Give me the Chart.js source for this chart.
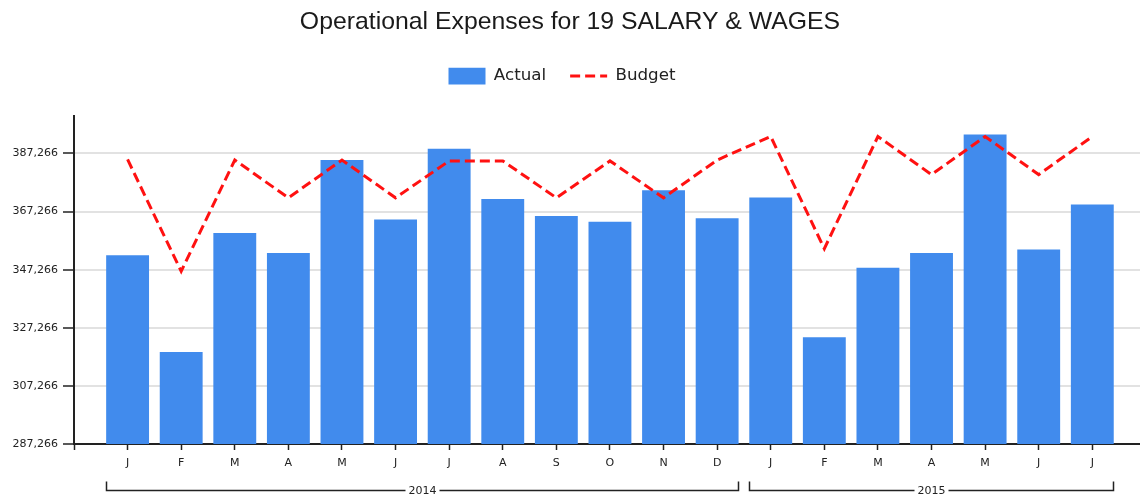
<!DOCTYPE html>
<html>
<head>
<meta charset="utf-8">
<script src="https://cdn.jsdelivr.net/npm/chart.js@4/dist/chart.umd.min.js"></script>
<style>
  html, body { margin: 0; padding: 0; background: #ffffff; }
  #wrap { width: 1140px; height: 497px; }
</style>
</head>
<body>
<div id="wrap"><canvas id="c" width="1140" height="497"></canvas></div>
<script>
// ---- data ----
const months = ['J','F','M','A','M','J','J','A','S','O','N','D','J','F','M','A','M','J','J'];
const actualValues = [352200, 318900, 359900, 353000, 385000, 364500, 388900, 371600, 365700, 363800, 374600, 365000,
                      372100, 324000, 347900, 353000, 393800, 354200, 369700];
const budgetValues = [385200, 346700, 385000, 372000, 385000, 372000, 384700, 384700, 372000, 384700, 372000, 385000,
                      393100, 354500, 393100, 380000, 393100, 380000, 393100];
const yTickValues = [287266, 307266, 327266, 347266, 367266, 387266];
const groupLabels = ['2014', '2015'];
const groupStart = [0, 12];
const groupEnd = [11, 18];

const yMin = 287266, yMax = 400000;
const FONT = "'DejaVu Sans', Verdana, sans-serif";

const bracketPlugin = {
  id: 'yearBrackets',
  afterLayout(chart) {
    // nudge the legend slightly left, as in the reference
    if (chart.legend) { chart.legend.left -= 8; chart.legend.right -= 8; }
  },
  afterDraw(chart) {
    const xs = chart.scales.x;
    const ctx = chart.ctx;
    const yLine = chart.chartArea.bottom + 46.5;
    const yTop = yLine - 9;
    ctx.save();
    ctx.strokeStyle = '#222';
    ctx.lineWidth = 1.5;
    ctx.font = '11px ' + FONT;
    ctx.fillStyle = '#222';
    ctx.textAlign = 'center';
    ctx.textBaseline = 'middle';
    groupLabels.forEach((lab, g) => {
      const x1 = Math.round(xs.getPixelForValue(groupStart[g] - 0.4)) + 0.5;
      const x2 = Math.round(xs.getPixelForValue(groupEnd[g] + 0.4)) - 0.5;
      const cx = (x1 + x2) / 2;
      const tw = ctx.measureText(lab).width;
      const gap = tw / 2 + 3;
      ctx.beginPath();
      ctx.moveTo(x1, yTop); ctx.lineTo(x1, yLine); ctx.lineTo(cx - gap, yLine);
      ctx.moveTo(cx + gap, yLine); ctx.lineTo(x2, yLine); ctx.lineTo(x2, yTop);
      ctx.stroke();
      ctx.fillText(lab, cx, yLine + 0.5);
    });
    ctx.restore();
  }
};

new Chart(document.getElementById('c'), {
  type: 'bar',
  data: {
    datasets: [
      {
        type: 'bar',
        label: 'Actual',
        data: actualValues.map((v, i) => ({ x: i, y: v })),
        backgroundColor: '#418bed',
        borderWidth: 0,
        barPercentage: 1.0,
        categoryPercentage: 0.8,
        pointStyle: 'rect',
        order: 1
      },
      {
        type: 'line',
        label: 'Budget',
        data: budgetValues.map((v, i) => ({ x: i, y: v })),
        borderColor: '#ff1111',
        backgroundColor: '#ff1111',
        borderWidth: 3,
        borderDash: [10, 5],
        pointRadius: 0,
        pointHoverRadius: 0,
        pointStyle: 'line',
        tension: 0,
        fill: false,
        order: 0
      }
    ]
  },
  options: {
    responsive: false,
    animation: false,
    events: [],
    layout: { padding: { top: 0, left: 0, right: 0, bottom: 0 } },
    plugins: {
      title: {
        display: true,
        text: 'Operational Expenses for 19 SALARY & WAGES',
        color: '#1a1a1a',
        font: { family: "'Liberation Sans', Arial, sans-serif", size: 24.8, weight: 'normal' },
        padding: { top: 7, bottom: 7 }
      },
      subtitle: {
        display: true,
        text: '',
        position: 'top',
        weight: 500,
        padding: 0,
        font: { size: 10, lineHeight: '22px' }
      },
      legend: {
        display: true,
        position: 'top',
        labels: {
          usePointStyle: true,
          pointStyleWidth: 37,
          boxHeight: 18,
          padding: 24,
          color: '#222',
          font: { family: FONT, size: 16.7 },
          sort: (a, b) => a.datasetIndex - b.datasetIndex,
          generateLabels: (chart) => {
            const items = Chart.defaults.plugins.legend.labels.generateLabels(chart);
            items.forEach(it => {
              const ds = chart.data.datasets[it.datasetIndex];
              if (ds.type === 'line') {
                it.lineDash = ds.borderDash;
                it.lineWidth = ds.borderWidth;
                it.strokeStyle = ds.borderColor;
              } else {
                it.lineWidth = 0;
              }
            });
            return items;
          }
        }
      },
      tooltip: { enabled: false }
    },
    scales: {
      x: {
        type: 'linear',
        offset: false,
        min: -1,
        max: 18.89,
        afterFit: (s) => { s.height = 53; },
        afterBuildTicks: (s) => { s.ticks = [-1].concat(months.map((m, i) => i)).map(v => ({ value: v })); },
        ticks: {
          autoSkip: false,
          maxRotation: 0,
          padding: 7,
          color: '#222',
          font: { family: FONT, size: 11 },
          callback: (v) => (months[v] !== undefined ? months[v] : '')
        },
        grid: {
          display: true,
          offset: false,
          drawOnChartArea: false,
          drawTicks: true,
          tickLength: 6,
          tickColor: '#222',
          tickWidth: 1.5
        },
        border: { display: true, color: '#222', width: 2 }
      },
      y: {
        type: 'linear',
        min: yMin,
        max: yMax,
        afterFit: (s) => { s.width = 74; },
        afterBuildTicks: (s) => { s.ticks = yTickValues.map(v => ({ value: v })); },
        ticks: {
          padding: 5,
          color: '#222',
          font: { family: FONT, size: 11 },
          callback: (v) => Number(v).toLocaleString('en-US')
        },
        grid: {
          display: true,
          drawOnChartArea: true,
          color: '#e2e2e2',
          lineWidth: 2,
          tickLength: 11,
          tickColor: '#222',
          tickWidth: 1.5
        },
        border: { display: true, color: '#222', width: 2 }
      }
    }
  },
  plugins: [bracketPlugin]
});
</script>
</body>
</html>
